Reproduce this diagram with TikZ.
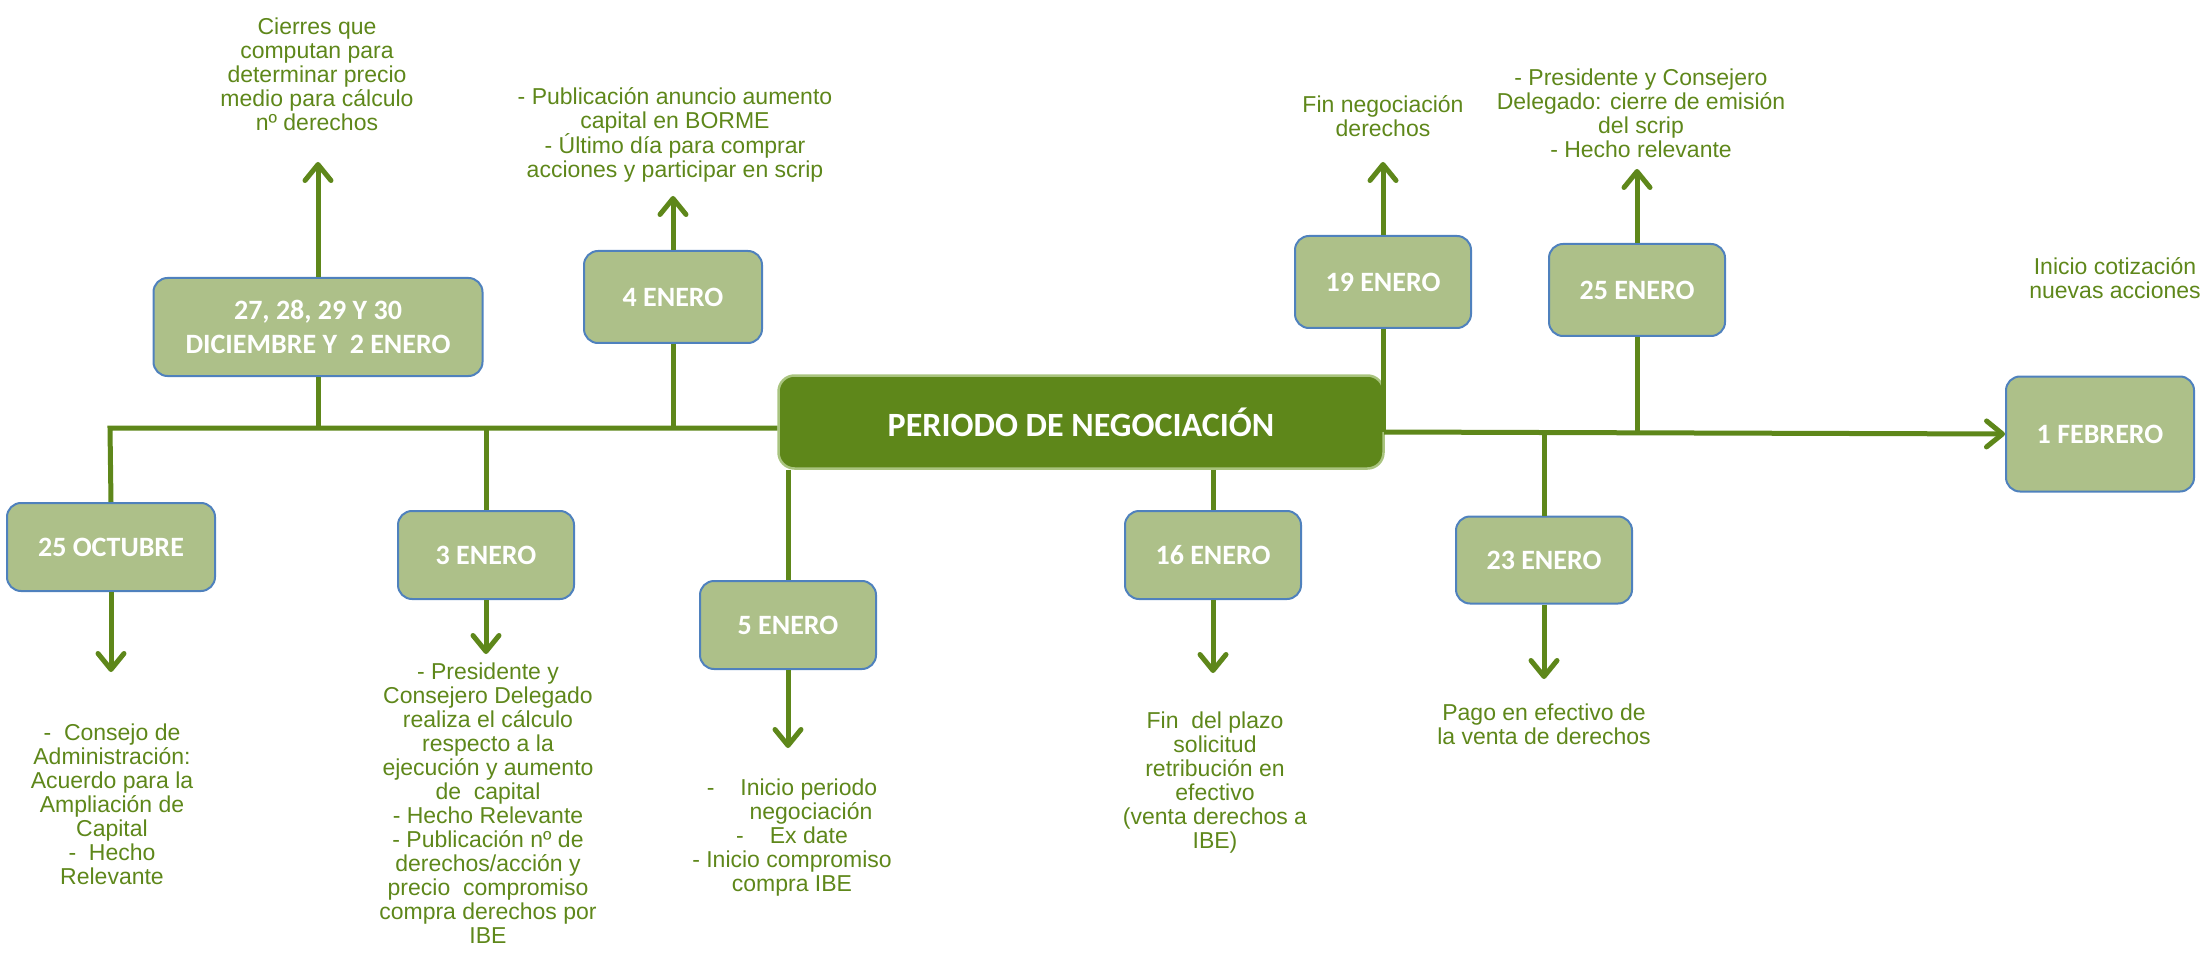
\documentclass[tikz,border=0pt]{standalone}
\usepackage{fontspec}
\setmainfont{Liberation Sans}
\newfontfamily\calibri{Carlito}
\usetikzlibrary{arrows.meta}
\definecolor{verde}{RGB}{94,135,26}
\definecolor{verdeclaro}{RGB}{173,192,137}
\definecolor{azul}{RGB}{79,129,189}
\definecolor{borde}{RGB}{169,196,127}

\begin{document}
\begin{tikzpicture}[x=1pt,y=-1pt]
	\tikzstyle{every node}+=[inner sep=0pt]
	\tikzstyle{fecha}=[draw=azul, line width=2pt, fill=verdeclaro, rounded corners=14pt, minimum width=176pt, minimum height=88pt, text=white, align=center, font=\calibri\bfseries\fontsize{28}{34}\selectfont]
	\tikzstyle{nota}=[text=verde, align=center, font=\fontsize{23}{24}\selectfont]
	\tikzstyle{linea}=[draw=verde, line width=5pt]
	\tikzstyle{flecha}=[linea, -{Straight Barb[length=16pt, width=26pt, line cap=round, line join=round]}]
	\useasboundingbox (0,0) rectangle (2205,965);
	% cajas
	\node [draw=borde, line width=2.5pt, fill=verde, rounded corners=16pt, minimum width=605pt, minimum height=93pt, text=white, font=\calibri\bfseries\fontsize{34}{36}\selectfont] (main) at (1081,422) {PERIODO DE NEGOCIACIÓN};
	\node [fecha, minimum width=208pt] (oct) at (111,547) {25 OCTUBRE};
	\node [fecha, minimum width=329pt, minimum height=98pt] (dic) at (318,327) {27, 28, 29 Y 30\\DICIEMBRE Y\ \ 2 ENERO};
	\node [fecha] (e3) at (486,555) {3 ENERO};
	\node [fecha, minimum width=178pt, minimum height=92pt] (e4) at (673,297) {4 ENERO};
	\node [fecha] (e5) at (788,625) {5 ENERO};
	\node [fecha] (e16) at (1213,555) {16 ENERO};
	\node [fecha, minimum height=92pt] (e19) at (1383,282) {19 ENERO};
	\node [fecha, minimum height=87pt] (e23) at (1544,560) {23 ENERO};
	\node [fecha, minimum height=92pt] (e25) at (1637,290) {25 ENERO};
	\node [fecha, minimum width=188pt, minimum height=115pt] (feb) at (2100,434) {1 FEBRERO};
	% textos
	\node [nota] (tdic) at (317,74) {Cierres que\\computan para\\determinar precio\\medio para cálculo\\nº derechos};
	\node [nota] (te4) at (675,135) {- Publicación anuncio aumento\\capital en BORME\\- Último día para comprar\\acciones y participar en scrip};
	\node [nota] (te19) at (1383,116) {Fin negociación\\derechos};
	\node [nota] (te25) at (1641,113) {- Presidente y Consejero\\Delegado: cierre de emisión\\del scrip\\- Hecho relevante};
	\node [nota] (tfeb) at (2115,278) {Inicio cotización\\nuevas acciones};
	\node [nota] (toct) at (112,804) {-\ \ Consejo de\\Administración:\\Acuerdo para la\\Ampliación de\\Capital\\-\ \ Hecho\\Relevante};
	\node [nota] (te3) at (488,803) {- Presidente y\\Consejero Delegado\\realiza el cálculo\\respecto a la\\ejecución y aumento\\de\ \ capital\\- Hecho Relevante\\- Publicación nº de\\derechos/acción y\\precio\ \ compromiso\\compra derechos por\\IBE};
	\node [nota] (te5) at (792,838) {-\hspace{26pt}Inicio periodo\\\hspace*{38pt}negociación\\-\hspace{26pt}Ex date\\- Inicio compromiso\\compra IBE};
	\node [nota] (te16) at (1215,783) {Fin\ \ del plazo\\solicitud\\retribución en\\efectivo\\(venta derechos a\\IBE)};
	\node [nota] (te23) at (1544,724) {Pago en efectivo de\\la venta de derechos};
	% linea central
	\coordinate (izq) at (110,428);
	\coordinate (der) at (1384,432);
	\draw [linea] (oct.north) -- (izq) -- (izq -| main.west);
	\draw [flecha] (der) -- (feb.west);
	\draw [linea] (dic.south) -- (dic.south |- izq);
	\draw [linea] (e3.north |- izq) -- (e3.north);
	\draw [linea] (e4.south) -- (e4.south |- izq);
	\draw [linea] (main.south -| e5.north) -- (e5.north);
	\draw [linea] (main.south -| e16.north) -- (e16.north);
	\draw [linea] (e19.south) -- (e19.south |- der);
	\draw [linea] (e23.north |- der) -- (e23.north);
	\draw [linea] (e25.south) -- (e25.south |- der);
	% flechas
	\coordinate (pdic) at (dic.north |- 0,162);
	\coordinate (pe4) at (e4.north |- 0,196);
	\coordinate (pe19) at (e19.north |- 0,162);
	\coordinate (pe25) at (e25.north |- 0,169);
	\coordinate (poct) at (oct.south |- 0,672);
	\coordinate (pe3) at (e3.south |- 0,654);
	\coordinate (pe5) at (e5.south |- 0,748);
	\coordinate (pe16) at (e16.south |- 0,673);
	\coordinate (pe23) at (e23.south |- 0,679);
	\draw [flecha] (dic.north) -- (pdic);
	\draw [flecha] (e4.north) -- (pe4);
	\draw [flecha] (e19.north) -- (pe19);
	\draw [flecha] (e25.north) -- (pe25);
	\draw [flecha] (oct.south) -- (poct);
	\draw [flecha] (e3.south) -- (pe3);
	\draw [flecha] (e5.south) -- (pe5);
	\draw [flecha] (e16.south) -- (pe16);
	\draw [flecha] (e23.south) -- (pe23);
\end{tikzpicture}
\end{document}
